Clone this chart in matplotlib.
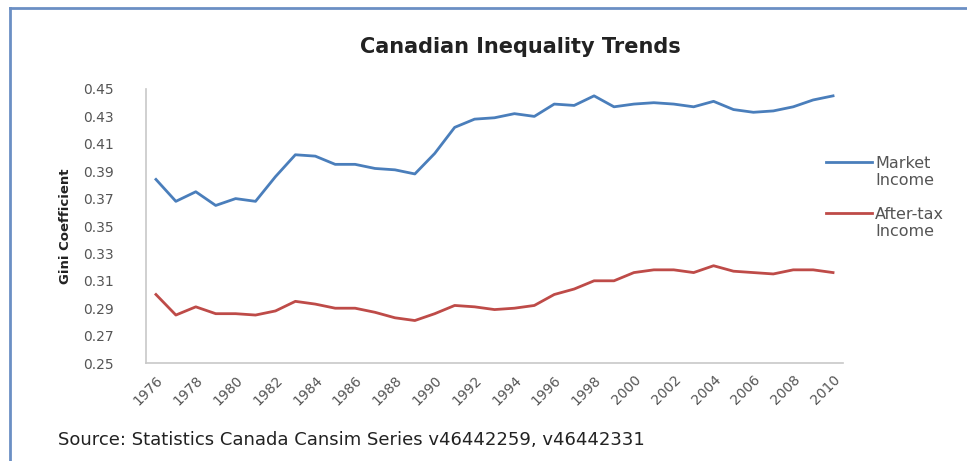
import matplotlib
matplotlib.use("Agg")
import matplotlib.pyplot as plt
from matplotlib.lines import Line2D

years = list(range(1976, 2011))
market_income = [0.384, 0.368, 0.375, 0.365, 0.370, 0.368, 0.386, 0.402, 0.401, 0.395,
                 0.395, 0.392, 0.391, 0.388, 0.403, 0.422, 0.428, 0.429, 0.432, 0.430,
                 0.439, 0.438, 0.445, 0.437, 0.439, 0.440, 0.439, 0.437, 0.441, 0.435,
                 0.433, 0.434, 0.437, 0.442, 0.445]
after_tax_income = [0.300, 0.285, 0.291, 0.286, 0.286, 0.285, 0.288, 0.295, 0.293, 0.290,
                    0.290, 0.287, 0.283, 0.281, 0.286, 0.292, 0.291, 0.289, 0.290, 0.292,
                    0.300, 0.304, 0.310, 0.310, 0.316, 0.318, 0.318, 0.316, 0.321, 0.317,
                    0.316, 0.315, 0.318, 0.318, 0.316]
series_names = ["Market\nIncome", "After-tax\nIncome"]
y_ticks = [0.25, 0.27, 0.29, 0.31, 0.33, 0.35, 0.37, 0.39, 0.41, 0.43, 0.45]
x_tick_years = list(range(1976, 2011, 2))

plt.rcParams['font.family'] = ['DejaVu Sans']

fig = plt.figure(figsize=(9.67, 4.61), dpi=100)
ax = fig.add_axes([146/967, 1 - 363/461, (843 - 146)/967, (363 - 89)/461])

blue = "#4a7ebb"
red = "#be4b48"
ax.plot(years, market_income, color=blue, lw=2.0)
ax.plot(years, after_tax_income, color=red, lw=2.0)

ax.set_xlim(1975.5, 2010.5)
ax.set_ylim(0.25, 0.45)
ax.set_yticks(y_ticks)
ax.set_yticklabels([f"{v:.2f}" for v in y_ticks])
ax.set_xticks(x_tick_years)
ax.set_xticklabels([str(y) for y in x_tick_years], rotation=45, ha="right",
                   rotation_mode="anchor")
ax.tick_params(axis="both", length=0, labelsize=10, colors="#555555")
ax.tick_params(axis="y", pad=23)
ax.tick_params(axis="x", pad=7)
for s in ["top", "right"]:
    ax.spines[s].set_visible(False)
for s in ["left", "bottom"]:
    ax.spines[s].set_color("#c8c8c8")
    ax.spines[s].set_linewidth(1.2)

ax.set_ylabel("Gini Coefficient", fontsize=9.5, fontweight="bold", color="#222222")
ax.yaxis.set_label_coords((72 - 146)/697, 0.5)

fig.text(520/967, 1 - 47/461, "Canadian Inequality Trends", ha="center", va="center",
         fontsize=15, fontweight="bold", color="#222222")
fig.text(58/967, 1 - 440/461, "Source: Statistics Canada Cansim Series v46442259, v46442331",
         ha="left", va="center", fontsize=13, color="#222222")

# legend
for yc, col, name in [(172, blue, series_names[0]), (223, red, series_names[1])]:
    fig.add_artist(Line2D([826/967, 872/967], [1 - (yc - 10)/461, 1 - (yc - 10)/461],
                          color=col, lw=2.0))
    fig.text(875/967, 1 - yc/461, name, ha="left", va="center", fontsize=11.5,
             color="#555555", linespacing=1.1)

# outer frame
fig.add_artist(Line2D([10/967, 1.0], [1 - 8/461, 1 - 8/461], color="#6b8fc4", lw=2))
fig.add_artist(Line2D([10/967, 10/967], [0, 1 - 8/461], color="#6b8fc4", lw=2))

fig.savefig("out.png", dpi=100)
